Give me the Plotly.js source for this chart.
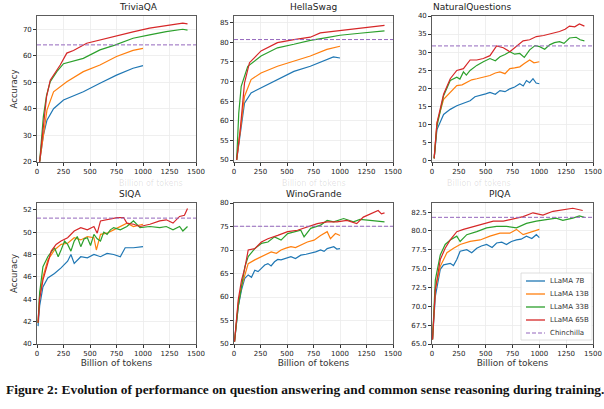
<!DOCTYPE html>
<html>
<head>
<meta charset="utf-8">
<script src="https://cdn.plot.ly/plotly-3.0.1.min.js"></script>
<style>html,body{margin:0;padding:0;background:#fff;}#chart{width:604px;height:409px;}</style>
</head>
<body>
<div id="chart"></div>
<script>
// ---- Data ----
const seriesNames = ["LLaMA 7B", "LLaMA 13B", "LLaMA 33B", "LLaMA 65B"];
const legendNames = ["LLaMA 7B", "LLaMA 13B", "LLaMA 33B", "LLaMA 65B", "Chinchilla"];
const panelTitles = ["TriviaQA", "HellaSwag", "NaturalQuestions", "SIQA", "WinoGrande", "PIQA"];
const chinchilla = [64.1, 80.7, 31.7, 51.25, 75.05, 81.8];

// TriviaQA
const tqa7x = [25, 60, 94, 156, 250, 437, 594, 750, 906, 1000];
const tqa7y = [20, 30, 35.7, 40, 43.3, 46.4, 49.6, 52.7, 55.3, 56.3];
const tqa13x = [25, 60, 94, 156, 281, 437, 594, 750, 906, 1000];
const tqa13y = [20, 31, 39.5, 46.4, 50.2, 54, 56.5, 59.7, 62, 62.8];
const tqa33x = [25, 60, 90, 125, 187, 250, 437, 594, 734, 906, 1062, 1219, 1375, 1420];
const tqa33y = [20, 37, 45, 50.2, 54, 57, 59, 62.2, 64, 66.6, 67.9, 69.1, 70, 69.7];
const tqa65x = [25, 60, 90, 125, 156, 219, 281, 344, 469, 594, 734, 906, 1062, 1219, 1375, 1420];
const tqa65y = [20, 34.5, 44.5, 50.8, 52.7, 56.5, 61, 62, 64.7, 66, 67.2, 69, 70.4, 71.4, 72.3, 72];

// HellaSwag
const hs7x = [25, 60, 99, 161, 255, 410, 565, 720, 876, 938, 1000];
const hs7y = [50, 57, 64.5, 67.1, 68.4, 70.5, 72.6, 73.9, 75.6, 76.3, 76];
const hs13x = [25, 60, 99, 161, 255, 410, 565, 720, 876, 1000];
const hs13y = [50, 58, 66.2, 70.5, 72.2, 73.9, 75.2, 76.5, 78.2, 79];
const hs33x = [25, 45, 68, 130, 255, 410, 565, 720, 876, 1000, 1186, 1420];
const hs33y = [50, 62, 68.8, 73.9, 76.5, 78.6, 79.5, 80.5, 81.2, 81.8, 82.3, 82.9];
const hs65x = [25, 60, 99, 146, 255, 410, 565, 720, 814, 1000, 1186, 1342, 1420];
const hs65y = [50, 58, 69.6, 74.8, 77.8, 79.9, 80.7, 81.3, 82.4, 83, 83.6, 84.2, 84.3];

// NaturalQuestions
const nq7x = [20, 46, 108, 170, 231, 300, 355, 400, 448, 500, 540, 590, 633, 680, 725, 770, 818, 850, 880, 910, 941, 970, 1000];
const nq7y = [0.5, 8.5, 12.7, 14.1, 15.1, 15.8, 16.5, 17.6, 17.9, 18.4, 18.8, 18.3, 19.3, 19.0, 19.8, 20.3, 21.2, 20.6, 22.1, 21.5, 22.6, 21.4, 21.2];
const nq13x = [20, 46, 108, 170, 231, 280, 324, 370, 417, 470, 540, 590, 633, 680, 725, 770, 818, 860, 910, 950, 1000];
const nq13y = [0.5, 10.3, 16.9, 18.8, 20.7, 20.9, 21.6, 22.3, 22.6, 23.0, 23.5, 24.2, 24.5, 24.0, 25.4, 25.6, 25.9, 26.8, 27.8, 27.0, 27.3];
const nq33x = [20, 46, 108, 170, 231, 260, 293, 320, 355, 417, 478, 540, 590, 633, 680, 725, 770, 818, 860, 910, 960, 1003, 1050, 1096, 1140, 1188, 1230, 1281, 1343, 1380, 1420];
const nq33y = [0.5, 9.4, 17.9, 22.1, 23, 22.5, 24.5, 23.6, 24.9, 26.3, 27.3, 28.2, 27.6, 28.7, 29.3, 30.1, 29.4, 29.6, 28.5, 30.6, 31.8, 31.5, 30.8, 32, 32.6, 32.9, 32.4, 33.9, 34.1, 33.4, 33.1];
const nq65x = [20, 46, 108, 170, 231, 293, 355, 417, 478, 540, 602, 664, 725, 787, 849, 910, 972, 1040, 1096, 1188, 1240, 1281, 1330, 1373, 1420];
const nq65y = [0.5, 10.3, 18.3, 22.6, 24.9, 25.4, 27.8, 27.8, 28.2, 29, 31.7, 31.2, 30.1, 31.5, 33.1, 33.4, 34.3, 34.6, 35, 35.7, 36.3, 37.2, 37.0, 37.8, 37.2];

// SIQA
const siqa7x = [10, 25, 56, 102, 165, 227, 289, 320, 351, 413, 475, 537, 599, 661, 723, 786, 832, 910, 1000];
const siqa7y = [41.6, 43.4, 45.1, 45.9, 46.3, 46.8, 47.4, 48, 47.2, 47.8, 47.7, 48, 47.8, 48.1, 48, 47.8, 48.6, 48.6, 48.7];
const siqa13x = [10, 25, 56, 102, 165, 227, 289, 351, 413, 475, 537, 560, 599, 661, 723, 786, 848, 910, 1000];
const siqa13y = [41.9, 44.3, 46, 47.5, 48.4, 48.9, 49, 49.5, 49.3, 49.6, 49.5, 48.4, 49.8, 49.9, 50.2, 50.5, 50.8, 50.5, 50.7];
const siqa33x = [10, 25, 56, 102, 165, 200, 227, 260, 289, 320, 351, 380, 413, 445, 475, 505, 537, 568, 599, 630, 661, 692, 723, 786, 848, 910, 972, 1065, 1158, 1220, 1283, 1345, 1376, 1420];
const siqa33y = [41.9, 44.6, 46.9, 47.8, 48.6, 47.8, 48.4, 49.2, 48.9, 48.3, 49.2, 49.6, 48.7, 49.4, 49.5, 48.8, 49.8, 49.4, 49.2, 50, 49.8, 50.2, 50.4, 50.2, 50.5, 51, 50.4, 50.5, 50.4, 50.5, 50.2, 50.5, 50.1, 50.5];
const siqa65x = [10, 25, 56, 102, 134, 180, 227, 289, 351, 413, 475, 537, 568, 599, 661, 755, 817, 848, 910, 972, 1065, 1158, 1220, 1283, 1345, 1391, 1420];
const siqa65y = [41.9, 44, 45.7, 47.2, 48.3, 48.9, 49.2, 49.5, 50.1, 50.4, 50.2, 50.5, 49.9, 51, 51.1, 51.3, 51.3, 50.8, 50.7, 50.5, 50.7, 51, 51.1, 50.8, 51.4, 51.5, 52.1];

// WinoGrande
const wg7x = [5, 40, 71, 102, 134, 165, 196, 227, 258, 290, 320, 350, 382, 413, 444, 490, 537, 580, 630, 680, 723, 770, 817, 850, 879, 910, 941, 970, 1000];
const wg7y = [50.5, 58, 61.5, 64, 64.7, 64.2, 65.7, 65.4, 66.1, 66.8, 67.1, 66.6, 67.5, 68.0, 67.9, 68.3, 68.6, 68.2, 68.9, 69.1, 69.3, 69.6, 70, 69.7, 70.3, 70.5, 70.7, 70.2, 70.3];
const wg13x = [5, 40, 71, 134, 196, 258, 300, 351, 400, 444, 490, 537, 580, 630, 692, 755, 817, 879, 910, 957, 1000];
const wg13y = [50.5, 58.7, 62.2, 67.1, 67.9, 68.6, 69.1, 69.6, 69.3, 70, 70.4, 70.7, 70.5, 71, 71.7, 72.1, 73.1, 73.9, 72.4, 73.5, 73.1];
const wg33x = [5, 40, 71, 102, 134, 196, 258, 320, 382, 444, 506, 568, 630, 661, 723, 817, 879, 941, 1034, 1127, 1189, 1283, 1375, 1420];
const wg33y = [50.5, 58, 62.2, 66.4, 68.6, 70.3, 71.4, 71.7, 72.8, 72.1, 73.5, 73.9, 74.2, 72.8, 74.6, 75.3, 76.3, 76, 76.7, 76, 76.5, 76.3, 76.2, 76];
const wg65x = [5, 40, 71, 102, 134, 196, 258, 320, 413, 506, 599, 692, 786, 879, 972, 1065, 1158, 1220, 1283, 1329, 1360, 1391, 1420];
const wg65y = [50.5, 59.4, 63.6, 66.1, 70, 70.3, 71.7, 72.4, 73.1, 73.9, 74.2, 74.9, 75.6, 76, 76, 76.3, 75.6, 77, 77.7, 78.1, 78.4, 77.7, 77.9];

// PIQA
const pq7x = [5, 31, 77, 108, 170, 200, 231, 262, 324, 370, 417, 460, 509, 560, 602, 650, 694, 740, 787, 830, 880, 930, 972, 1000];
const pq7y = [65.6, 71.3, 74.9, 75.5, 75.7, 75.4, 76.2, 77.3, 77.5, 77.1, 77.7, 78.0, 78.2, 77.8, 78.4, 78.5, 78.2, 78.6, 78.8, 78.9, 79.3, 79.0, 79.5, 79.1];
const pq13x = [5, 31, 77, 139, 201, 262, 355, 448, 540, 633, 725, 787, 849, 941, 1000];
const pq13y = [65.6, 72.2, 75.3, 77.1, 77.7, 78.2, 78.6, 78.8, 79.3, 79.7, 79.7, 80.2, 79.5, 79.9, 80.2];
const pq33x = [5, 31, 77, 123, 170, 231, 262, 324, 417, 509, 602, 694, 787, 880, 972, 1065, 1157, 1219, 1312, 1373, 1420];
const pq33y = [65.6, 73.5, 76.8, 78.2, 78.8, 79.3, 78.6, 79.5, 79.9, 80.4, 80.6, 80.6, 80.4, 81, 81.3, 81.5, 81.7, 81.4, 81.7, 82, 81.8];
const pq65x = [5, 31, 77, 123, 170, 231, 293, 386, 478, 571, 664, 756, 849, 941, 1034, 1127, 1219, 1312, 1404];
const pq65y = [65.6, 72.2, 76.2, 77.7, 78.8, 79.9, 80.2, 80.6, 81, 81.3, 81.3, 81.6, 81.9, 82.4, 82.1, 82.6, 82.8, 83, 82.7];

const xTickVals = [0, 250, 500, 750, 1000, 1250, 1500];
const caption = "Figure 2: Evolution of performance on question answering and common sense reasoning during training.";

// ---- Build ----
const colors = ["#1f77b4", "#ff7f0e", "#2ca02c", "#d62728"];
const chinColor = "#9467bd";
const panels = [
  [[tqa7x, tqa7y], [tqa13x, tqa13y], [tqa33x, tqa33y], [tqa65x, tqa65y]],
  [[hs7x, hs7y], [hs13x, hs13y], [hs33x, hs33y], [hs65x, hs65y]],
  [[nq7x, nq7y], [nq13x, nq13y], [nq33x, nq33y], [nq65x, nq65y]],
  [[siqa7x, siqa7y], [siqa13x, siqa13y], [siqa33x, siqa33y], [siqa65x, siqa65y]],
  [[wg7x, wg7y], [wg13x, wg13y], [wg33x, wg33y], [wg65x, wg65y]],
  [[pq7x, pq7y], [pq13x, pq13y], [pq33x, pq33y], [pq65x, pq65y]]
];
const yRanges = [[19.9, 75.0], [49.5, 86.7], [-0.5, 40], [40, 52.6], [50, 80], [65, 83.7]];
const yDticks = [10, 5, 5, 2, 5, 2.5];
const yTick0 = [20, 50, 0, 40, 50, 65];

const W = 604, H = 409;
const colPx = [[37, 196], [234, 393], [432, 593]];
const rowPx = [[16, 162], [203, 344]];

const traces = [];
const layout = {
  width: W, height: H,
  margin: {l: 0, r: 0, t: 0, b: 0},
  paper_bgcolor: "#fff", plot_bgcolor: "#fff",
  font: {family: "DejaVu Sans", size: 7, color: "#222"},
  showlegend: false,
  annotations: [],
  shapes: []
};

panels.forEach((series, p) => {
  const r = Math.floor(p / 3), c = p % 3;
  const ax = p === 0 ? "" : String(p + 1);
  const xa = "x" + ax, ya = "y" + ax;
  series.forEach((s, i) => {
    traces.push({
      x: s[0], y: s[1], xaxis: xa, yaxis: ya, type: "scatter", mode: "lines",
      name: seriesNames[i], line: {color: colors[i], width: 1.2}
    });
  });
  traces.push({
    x: [0, 1500], y: [chinchilla[p], chinchilla[p]], xaxis: xa, yaxis: ya,
    type: "scatter", mode: "lines", name: "Chinchilla",
    line: {color: chinColor, width: 1, dash: "4px,2px"}
  });
  const xd = [colPx[c][0] / W, colPx[c][1] / W];
  const yd = [1 - rowPx[r][1] / H, 1 - rowPx[r][0] / H];
  layout["xaxis" + ax] = {
    domain: xd, anchor: ya, range: [0, 1500], tickvals: xTickVals,
    showline: true, mirror: true, linecolor: "#333", linewidth: 0.8,
    ticks: "outside", ticklen: 3, tickcolor: "#333", tickfont: {size: 7},
    showgrid: true, gridcolor: "#ebebeb", gridwidth: 0.8, zeroline: false,
    title: r === 1 ? {text: "Billion of tokens", font: {size: 9, color: "#333"}, standoff: 2} : undefined
  };
  layout["yaxis" + ax] = {
    domain: yd, anchor: xa, range: yRanges[p], tick0: yTick0[p], dtick: yDticks[p],
    tickformat: p === 5 ? ".1f" : "",
    showline: true, mirror: true, linecolor: "#333", linewidth: 0.8,
    ticks: "outside", ticklen: 3, tickcolor: "#333", tickfont: {size: 7},
    showgrid: true, gridcolor: "#ebebeb", gridwidth: 0.8, zeroline: false,
    title: c === 0 ? {text: "Accuracy", font: {size: 8.5, color: "#333"}, standoff: 3} : undefined
  };
  layout.annotations.push({
    text: panelTitles[p], xref: "paper", yref: "paper",
    x: (xd[0] + xd[1]) / 2, y: yd[1], yanchor: "bottom", yshift: 2,
    showarrow: false, font: {family: "DejaVu Sans", size: 9, color: "#222"}
  });
  if (r === 0) {
    layout.annotations.push({
      text: "Billion of tokens", xref: "paper", yref: "paper",
      x: (xd[0] + xd[1]) / 2, y: 1 - 183 / H, yanchor: "middle",
      showarrow: false, font: {family: "DejaVu Sans", size: 8, color: "rgba(0,0,0,0.12)"}
    });
  }
});

// ---- Legend (drawn in the PIQA panel, bottom-right) ----
const legColors = colors.concat([chinColor]);
const legBox = {x0: 521, x1: 592, y0: 273, y1: 340};
layout.shapes.push({
  type: "rect", xref: "paper", yref: "paper", layer: "above",
  x0: legBox.x0 / W, x1: legBox.x1 / W, y0: 1 - legBox.y1 / H, y1: 1 - legBox.y0 / H,
  line: {color: "#d6d6d6", width: 0.8}, fillcolor: "rgba(255,255,255,0.85)"
});
legendNames.forEach((nm, i) => {
  const yPx = 281 + i * 13;
  layout.shapes.push({
    type: "line", xref: "paper", yref: "paper", layer: "above",
    x0: 526 / W, x1: 545 / W, y0: 1 - yPx / H, y1: 1 - yPx / H,
    line: {color: legColors[i], width: i === 4 ? 1 : 1.3, dash: i === 4 ? "4px,2px" : "solid"}
  });
  layout.annotations.push({
    text: nm, xref: "paper", yref: "paper", x: 548 / W, y: 1 - yPx / H,
    xanchor: "left", yanchor: "middle", showarrow: false,
    font: {family: "DejaVu Sans", size: 7, color: "#333"}
  });
});

layout.annotations.push({
  text: "<b>" + caption + "</b>", xref: "paper", yref: "paper",
  x: 4 / W, y: 1 - 389 / H, xanchor: "left", yanchor: "middle",
  showarrow: false, font: {family: "Liberation Serif", size: 13.4, color: "#111"}
});

Plotly.newPlot("chart", traces, layout, {displayModeBar: false, staticPlot: true});
</script>
</body>
</html>
